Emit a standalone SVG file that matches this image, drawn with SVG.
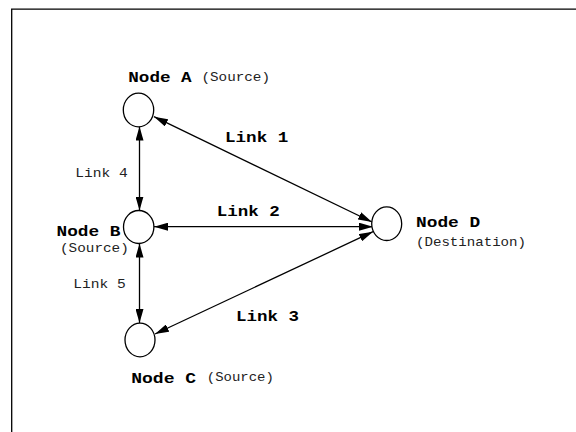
<svg xmlns="http://www.w3.org/2000/svg" width="576" height="432" viewBox="0 0 576 432">
<style>
  .node { fill: #ffffff; stroke: #000000; stroke-width: 1.3; }
  .link { stroke: #000000; stroke-width: 1.3; fill: none; marker-start: url(#arrow); marker-end: url(#arrow); }
  .bold { font-family: "Liberation Mono", "Courier New", monospace; font-weight: bold; font-size: 15px; fill: #000000; }
  .norm { font-family: "Liberation Mono", "Courier New", monospace; font-size: 13px; fill: #222222; }
  .frame { stroke: #000000; stroke-width: 1.3; fill: none; }
</style>
<defs>
  <marker id="arrow" markerUnits="userSpaceOnUse" markerWidth="14" markerHeight="8" refX="14" refY="4" orient="auto-start-reverse" viewBox="0 0 14 8">
    <path d="M0,0 L14,4 L0,8 Z" fill="#000000"/>
  </marker>
</defs>
<rect x="0" y="0" width="576" height="432" fill="#ffffff"/>
<path class="frame" d="M11.7,432 V9.2 H576"/>
<g id="connectors">
  <line class="link" x1="139.5" y1="126.5" x2="139.5" y2="210.5"/>
  <line class="link" x1="139.5" y1="243.5" x2="139.5" y2="323"/>
  <line class="link" x1="154" y1="226.7" x2="373" y2="226.7"/>
  <line class="link" x1="154" y1="116.7" x2="372" y2="222"/>
  <line class="link" x1="155" y1="334" x2="373" y2="231.7"/>
</g>
<g id="link-labels">
  <text class="bold" x="225" y="142.3" textLength="63.3" lengthAdjust="spacingAndGlyphs">Link 1</text>
  <text class="bold" x="216.7" y="215.5" textLength="63" lengthAdjust="spacingAndGlyphs">Link 2</text>
  <text class="bold" x="236" y="320.7" textLength="63" lengthAdjust="spacingAndGlyphs">Link 3</text>
  <text class="norm" x="75.2" y="176.7" textLength="52.5" lengthAdjust="spacingAndGlyphs">Link 4</text>
  <text class="norm" x="73.3" y="287.8" textLength="52.5" lengthAdjust="spacingAndGlyphs">Link 5</text>
</g>
<g id="node-a">
  <ellipse class="node" cx="138.5" cy="110" rx="15.2" ry="16.8"/>
  <text class="bold" x="128.3" y="81.7" textLength="63.4" lengthAdjust="spacingAndGlyphs">Node A</text>
  <text class="norm" x="201.5" y="80.5" textLength="68.5" lengthAdjust="spacingAndGlyphs">(Source)</text>
</g>
<g id="node-b">
  <ellipse class="node" cx="138.7" cy="227" rx="15.2" ry="16.5"/>
  <text class="bold" x="56.5" y="235.6" textLength="64" lengthAdjust="spacingAndGlyphs">Node B</text>
  <text class="norm" x="60" y="251.8" textLength="68.8" lengthAdjust="spacingAndGlyphs">(Source)</text>
</g>
<g id="node-c">
  <ellipse class="node" cx="140" cy="340" rx="15" ry="16.8"/>
  <text class="bold" x="131.2" y="383.3" textLength="65" lengthAdjust="spacingAndGlyphs">Node C</text>
  <text class="norm" x="206.8" y="381.2" textLength="67" lengthAdjust="spacingAndGlyphs">(Source)</text>
</g>
<g id="node-d">
  <ellipse class="node" cx="386.7" cy="223.7" rx="15" ry="16.8"/>
  <text class="bold" x="416" y="226.8" textLength="64.2" lengthAdjust="spacingAndGlyphs">Node D</text>
  <text class="norm" x="416" y="246" textLength="110" lengthAdjust="spacingAndGlyphs">(Destination)</text>
</g>
</svg>
